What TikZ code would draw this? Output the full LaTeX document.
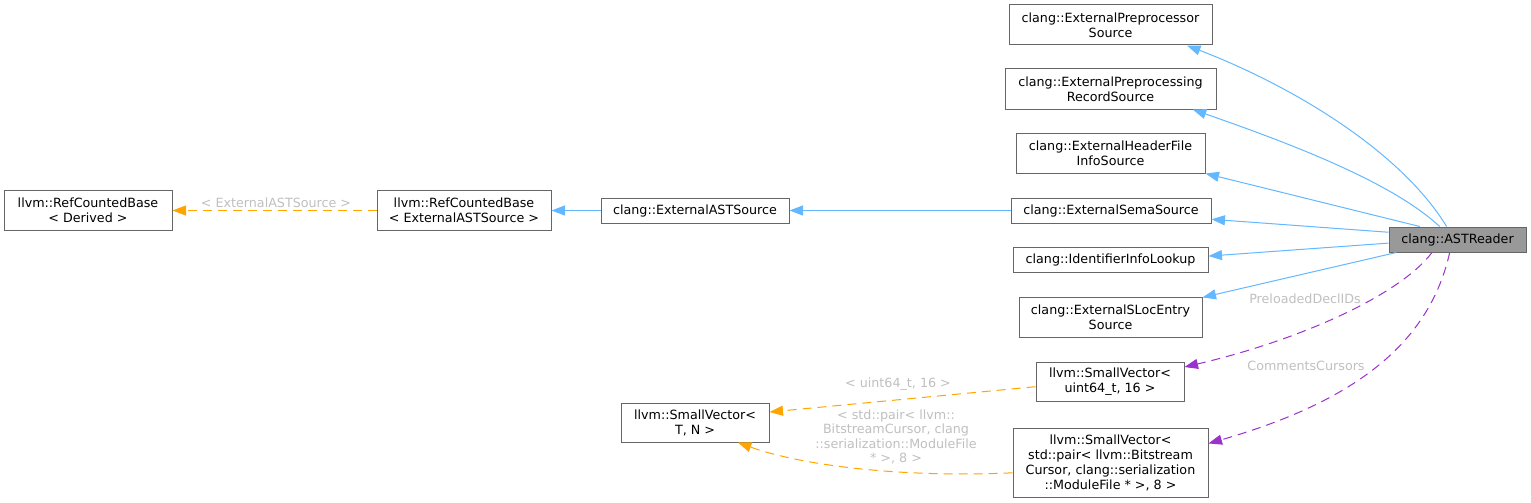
\documentclass[tikz,border=0pt]{standalone}
\usepackage{fontspec}
\setmainfont{DejaVu Sans}
\usetikzlibrary{arrows.meta}
\definecolor{inhblue}{HTML}{63B8FF}
\definecolor{tplorange}{HTML}{FFA500}
\definecolor{usepurple}{HTML}{9A32CD}
\definecolor{boxgray}{HTML}{666666}
\definecolor{rootgray}{HTML}{999999}
\definecolor{lblgray}{HTML}{C0C0C0}
\begin{document}
\begin{tikzpicture}[x=1pt, y=-1pt, line width=1pt,
    cls/.style={draw=boxgray, line width=1pt, fill=white, align=center, inner sep=0pt,
      font=\fontsize{12.7}{15}\selectfont},
    lbl/.style={text=lblgray, align=center, inner sep=0pt, font=\fontsize{12.7}{14.3}\selectfont},
    tip/.style={-{Triangle[length=13.5pt, width=10pt]}},
    inherit/.style={tip, draw=inhblue},
    tmpl/.style={tip, draw=tplorange, dash pattern=on 9pt off 6pt},
    uses/.style={tip, draw=usepurple, dash pattern=on 9pt off 6pt}]
    \useasboundingbox[fill=white] (0, 0) rectangle (1531, 503);

    % Classes
    \node[cls, fill=rootgray, minimum width=137, minimum height=25] (astreader) at (1457.5, 239.5) {clang::ASTReader};
    \node[cls, minimum width=203, minimum height=40] (preproc) at (1110.5, 25) {clang::ExternalPreprocessor\\Source};
    \node[cls, minimum width=211, minimum height=40] (record) at (1110.5, 89) {clang::ExternalPreprocessing\\RecordSource};
    \node[cls, minimum width=189, minimum height=40] (header) at (1110.5, 153) {clang::ExternalHeaderFile\\InfoSource};
    \node[cls, minimum width=200, minimum height=25] (sema) at (1111, 210.5) {clang::ExternalSemaSource};
    \node[cls, minimum width=195, minimum height=25] (ident) at (1110.5, 259.5) {clang::IdentifierInfoLookup};
    \node[cls, minimum width=183, minimum height=40] (sloc) at (1110.5, 317) {clang::ExternalSLocEntry\\Source};
    \node[cls, minimum width=148, minimum height=39] (vecu64) at (1110, 381.5) {llvm::SmallVector<\\ uint64\_t, 16 >};
    \node[cls, minimum width=195, minimum height=69] (vecpair) at (1110.5, 462.5)
        {llvm::SmallVector<\\ std::pair< llvm::Bitstream\\Cursor, clang::serialization\\::ModuleFile * >, 8 >};
    \node[cls, minimum width=148, minimum height=39] (vectn) at (695, 422.5) {llvm::SmallVector<\\T, N >};
    \node[cls, minimum width=188, minimum height=25] (extast) at (695, 210.5) {clang::ExternalASTSource};
    \node[cls, minimum width=174, minimum height=40] (rcbext) at (464, 210.5) {llvm::RefCountedBase\\< ExternalASTSource >};
    \node[cls, minimum width=168, minimum height=40] (rcbderived) at (88, 210.5) {llvm::RefCountedBase\\< Derived >};

    % Inheritance
    \draw[inherit] (astreader.130) .. controls (1400, 150) and (1290, 85) .. (preproc.-15);
    \draw[inherit] (astreader.144) .. controls (1390, 180) and (1280, 140) .. (record.-14);
    \draw[inherit] (astreader.161) -- (header.south east);
    \draw[inherit] (astreader.174) -- (sema.-5);
    \draw[inherit] (astreader.183) -- (ident.2);
    \draw[inherit] (astreader.192) -- (sloc.12);
    \draw[inherit] (sema) -- (extast);
    \draw[inherit] (extast) -- (rcbext);

    % Template instances
    \draw[tmpl] (rcbext) -- (rcbderived);
    \draw[tmpl] (vecu64.184) -- (vectn.8);
    \draw[tmpl] (vecpair.186) .. controls (900, 478) and (800, 465) .. (vectn.-25);

    % Members
    \draw[uses] (astreader.207) .. controls (1400, 295) and (1300, 340) .. (vecu64.11);
    \draw[uses] (astreader.239) .. controls (1430, 340) and (1360, 400) .. (vecpair.11);

    % Edge labels
    \node[lbl] (lblrcb) at (276, 203) {< ExternalASTSource >};
    \node[lbl] (lblu64) at (898, 384) {< uint64\_t, 16 >};
    \node[lbl] (lblpair) at (896, 437) {< std::pair< llvm::\\BitstreamCursor, clang\\::serialization::ModuleFile\\* >, 8 >};
    \node[lbl] (lblpre) at (1305, 299) {PreloadedDeclIDs};
    \node[lbl] (lblcom) at (1306, 366) {CommentsCursors};
\end{tikzpicture}
\end{document}
